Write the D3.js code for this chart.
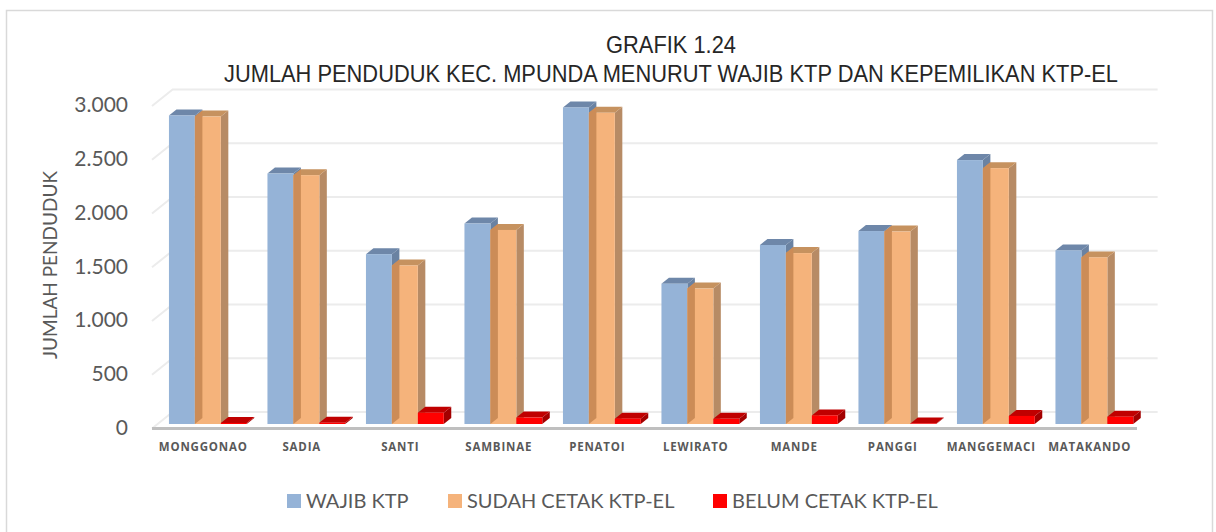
<!DOCTYPE html>
<html>
<head>
<meta charset="utf-8">
<script src="https://cdn.jsdelivr.net/npm/d3@7"></script>
<style>
  html, body { margin: 0; padding: 0; background: #fff; }
  svg { display: block; }
</style>
</head>
<body>
<div id="container"></div>
<script>
const categories = ["MONGGONAO", "SADIA", "SANTI", "SAMBINAE", "PENATOI",
  "LEWIRATO", "MANDE", "PANGGI", "MANGGEMACI", "MATAKANDO"];
const wajibKtp = [2870, 2330, 1580, 1865, 2945, 1305, 1665, 1795, 2455, 1615];
const sudahCetak = [2860, 2315, 1475, 1805, 2895, 1260, 1590, 1790, 2380, 1550];
const belumCetak = [10, 12, 105, 60, 50, 48, 80, 5, 75, 68];
const seriesNames = ["WAJIB KTP", "SUDAH CETAK KTP-EL", "BELUM CETAK KTP-EL"];
const yTicks = [0, 500, 1000, 1500, 2000, 2500, 3000];
const titleLines = ["GRAFIK 1.24",
  "JUMLAH PENDUDUK KEC. MPUNDA MENURUT WAJIB KTP DAN KEPEMILIKAN KTP-EL"];

const width = 1216, height = 532;
const fmt = v => d3.format(",")(v).replace(/,/g, ".");

// colours per series: front, top, side
const palette = [
  { front: "#95b3d7", top: "#6e87a9", side: "#6a82a2" },
  { front: "#f5b37b", top: "#c6925f", side: "#b78b65" },
  { front: "#ff0000", top: "#c00000", side: "#a30000" }
];
const strip = "#cc8c57";

const svg = d3.select("#container").append("svg")
  .attr("width", width).attr("height", height);

// chart border
svg.append("rect")
  .attr("x", 6.5).attr("y", 10.5).attr("width", 1206).attr("height", 540)
  .attr("fill", "#fff").attr("stroke", "#d9d9d9").attr("stroke-width", 1.5);

// oblique projection: depth z moves right and up
const ox = 1.25, oy = -1;
const wallDepth = 16.5, barZ0 = 4.5, barZ1 = 10.5;

const x0 = d3.scaleBand().domain(categories).range([152, 1137]);
const bw = x0.bandwidth();
const x1 = d3.scaleBand().domain(seriesNames).range([bw * 0.115, bw * 0.905]);
const y = d3.scaleLinear().domain([0, 3000]).range([428.5, 106]);

const P = (x, yy, z) => [x + z * ox, yy + z * oy];
const poly = pts => "M" + pts.map(p => p.join(",")).join("L") + "Z";

// gridlines on side wall + back wall
const grid = svg.append("g");
yTicks.forEach(t => {
  const a = P(x0.range()[0], y(t), 0);
  const b = P(x0.range()[0], y(t), wallDepth);
  const c = P(x0.range()[1], y(t), wallDepth);
  grid.append("path")
    .attr("d", `M${a}L${b}L${c}`)
    .attr("fill", "none")
    .attr("stroke", "#ececec")
    .attr("stroke-width", 2);
});

// floor front edge
svg.append("line")
  .attr("x1", x0.range()[0]).attr("x2", x0.range()[1])
  .attr("y1", y(0)).attr("y2", y(0))
  .attr("stroke", "#bfbfbf").attr("stroke-width", 3);

// y tick labels
svg.append("g").selectAll("text").data(yTicks).join("text")
  .attr("x", 128).attr("y", d => y(d) + 1)
  .attr("text-anchor", "end").attr("dominant-baseline", "middle")
  .attr("font-family", "Lato, 'Open Sans', sans-serif").attr("font-size", 21)
  .attr("fill", "#595959")
  .text(fmt);

// y axis title
svg.append("text")
  .attr("transform", "translate(57,265) rotate(-90)")
  .attr("text-anchor", "middle")
  .attr("font-family", "Lato, 'Open Sans', sans-serif").attr("font-size", 19)
  .attr("fill", "#595959")
  .text("JUMLAH PENDUDUK");

// bars
const seriesValues = [wajibKtp, sudahCetak, belumCetak];
const bars = svg.append("g");
categories.forEach((cat, i) => {
  seriesValues.forEach((vals, s) => {
    const v = vals[i];
    const xl = x0(cat) + x1(seriesNames[s]);
    const xr = xl + x1.bandwidth();
    const yt = y(v), yb = y(0);
    const c = palette[s];
    // right side
    bars.append("path")
      .attr("d", poly([P(xr, yb, barZ0), P(xr, yb, barZ1), P(xr, yt, barZ1), P(xr, yt, barZ0)]))
      .attr("fill", c.side);
    // top
    bars.append("path")
      .attr("d", poly([P(xl, yt, barZ0), P(xr, yt, barZ0), P(xr, yt, barZ1), P(xl, yt, barZ1)]))
      .attr("fill", c.top);
    // front
    const f0 = P(xl, yt, barZ0), f1 = P(xr, yb, barZ0);
    bars.append("rect")
      .attr("x", f0[0]).attr("y", f0[1])
      .attr("width", f1[0] - f0[0]).attr("height", Math.max(0, f1[1] - f0[1]))
      .attr("fill", c.front);
    // shaded strip of the left neighbour's side seen through the orange bar
    if (s === 1) {
      const h = Math.min(v, seriesValues[0][i]);
      const yh = y(h);
      bars.append("path")
        .attr("d", poly([P(xl, yb, barZ0), P(xl, yb, barZ1), P(xl, yh, barZ1), P(xl, yh, barZ0)]))
        .attr("fill", strip);
    }
  });
});

// category labels
svg.append("g").selectAll("text").data(categories).join("text")
  .attr("x", d => x0(d) + bw / 2 + 2)
  .attr("y", 451)
  .attr("text-anchor", "middle")
  .attr("font-family", "'Open Sans', sans-serif").attr("font-size", 11.5)
  .attr("font-weight", 700).attr("letter-spacing", 0.8)
  .attr("fill", "#595959")
  .text(d => d);

// title (slightly condensed)
svg.append("g")
  .attr("transform", "translate(671,0) scale(0.95,1)")
  .selectAll("text").data(titleLines).join("text")
  .attr("x", 0).attr("y", (d, i) => 53 + i * 29)
  .attr("text-anchor", "middle")
  .attr("font-family", "'Liberation Sans', Arial, sans-serif").attr("font-size", 23)
  .attr("fill", "#262626")
  .text(d => d);

// legend
const legendX = [287, 448, 713];
const legend = svg.append("g").selectAll("g").data(seriesNames).join("g")
  .attr("transform", (d, i) => `translate(${legendX[i]},494)`);
legend.append("rect")
  .attr("width", 14).attr("height", 14)
  .attr("fill", (d, i) => palette[i].front);
legend.append("text")
  .attr("x", 19).attr("y", 14)
  .attr("font-family", "Lato, 'Open Sans', sans-serif").attr("font-size", 20)
  .attr("fill", "#595959")
  .text(d => d);
</script>
</body>
</html>
